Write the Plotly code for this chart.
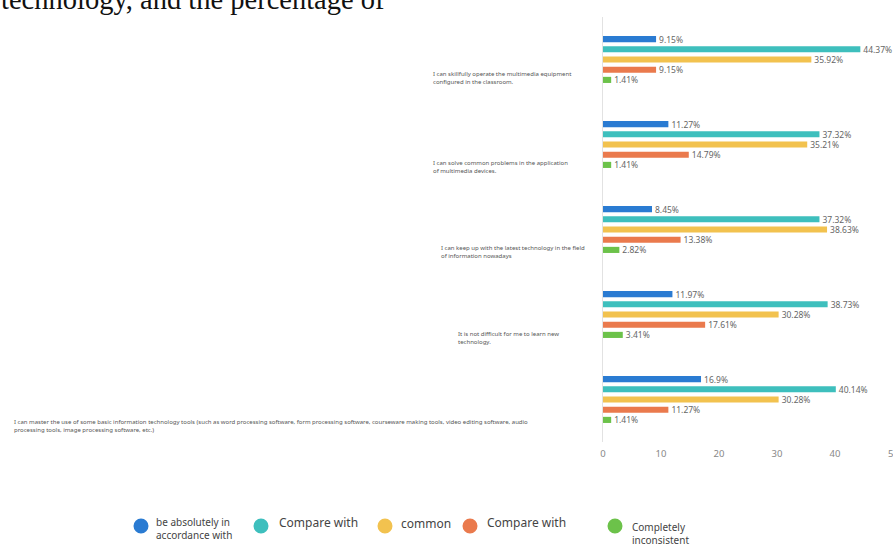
import plotly.graph_objects as go

# Survey statements (top to bottom) and the five response levels
questions = [
    "I can skillfully operate the multimedia equipment<br>configured in the classroom.",
    "I can solve common problems in the application<br>of multimedia devices.",
    "I can keep up with the latest technology in the field<br>of information nowadays",
    "It is not difficult for me to learn new<br>technology.",
    "I can master the use of some basic information technology tools (such as word processing software, "
    "form processing software, courseware making tools, video editing software, audio<br>"
    "processing tools, image processing software, etc.)",
]
series_names = [
    "be absolutely in<br>accordance with",
    "Compare with",
    "common",
    "Compare with",
    "Completely<br>inconsistent",
]
# percentages per response level, one value per statement
absolutely_agree = [9.15, 11.27, 8.45, 11.97, 16.9]
compare_agree = [44.37, 37.32, 37.32, 38.73, 40.14]
common = [35.92, 35.21, 38.63, 30.28, 30.28]
compare_disagree = [9.15, 14.79, 13.38, 17.61, 11.27]
inconsistent = [1.41, 1.41, 2.82, 3.41, 1.41]
series_values = [absolutely_agree, compare_agree, common, compare_disagree, inconsistent]

x_ticks = [0, 10, 20, 30, 40, 50]
heading = "technology, and the percentage of"

colors = ["#2a7bd2", "#3ebfbd", "#f2c24f", "#ea7a4d", "#6cc24a"]

W, H = 893, 549
L, R, T, B = 603, 0, 17, 107
plot_w = W - L - R
plot_h = H - T - B


def px2x(px):
    return (px - L) / plot_w


def py2y(py):
    return (H - B - py) / plot_h


fig = go.Figure()
for name, vals, col in zip(series_names, series_values, colors):
    fig.add_trace(go.Bar(
        y=questions, x=vals, orientation="h", name=name,
        marker=dict(color=col, line=dict(width=0)),
        text=vals, texttemplate="%{x}%", textposition="outside",
        textfont=dict(family="Noto Sans", size=8.5, color="#666666"),
        constraintext="none", cliponaxis=False,
        showlegend=False, hoverinfo="skip",
    ))

annotations = []

# statement labels, left-aligned blocks placed beside each group
label_left_px = [431, 431, 439, 456, 12]
label_drop_px = [18, 22, 22, 23, 26]
for i, (q, lx, dy) in enumerate(zip(questions, label_left_px, label_drop_px)):
    annotations.append(dict(
        x=px2x(lx), xref="paper", y=i, yref="y", yshift=-dy,
        text=q, showarrow=False, xanchor="left", yanchor="middle", align="left",
        font=dict(family="Noto Sans", size=6, color="#555555"),
    ))

# last tick label sits on the right edge of the axis
tick_font = dict(family="Noto Sans", size=9.5, color="#888888")
annotations.append(dict(
    x=x_ticks[-1], xref="x", y=py2y(453), yref="paper",
    text=str(x_ticks[-1]), showarrow=False, xanchor="center", yanchor="middle",
    font=tick_font,
))

# legend built from circles and labels along the bottom
shapes = []
legend_circle_px = [141, 261, 385, 470, 615]
legend_text_px = [154, 277, 399, 485, 630]
legend_text_py = [528.5, 522, 523, 522, 533.5]
legend_font = [10, 12, 12, 12, 10]
for name, col, cx, tx, ty, fs in zip(series_names, colors, legend_circle_px,
                                     legend_text_px, legend_text_py, legend_font):
    shapes.append(dict(
        type="circle", xref="paper", yref="paper",
        xsizemode="pixel", ysizemode="pixel",
        xanchor=px2x(cx), yanchor=py2y(526),
        x0=-7.5, x1=7.5, y0=-7.5, y1=7.5,
        fillcolor=col, line=dict(width=0),
    ))
    annotations.append(dict(
        x=px2x(tx), xref="paper", y=py2y(ty), yref="paper",
        text=name, showarrow=False, xanchor="left", yanchor="middle", align="left",
        font=dict(family="Noto Sans", size=fs, color="#444444"),
    ))

# running text of the surrounding page, cut at the top edge
annotations.append(dict(
    x=px2x(-1), xref="paper", y=py2y(0), yref="paper",
    text=heading, showarrow=False, xanchor="left", yanchor="middle",
    font=dict(family="Liberation Serif", size=28.5, color="#111111"),
))

fig.update_layout(
    width=W, height=H,
    margin=dict(l=L, r=R, t=T, b=B, pad=0),
    paper_bgcolor="white", plot_bgcolor="white",
    barmode="group", bargap=0.4, bargroupgap=0.4,
    xaxis=dict(
        range=[0, 50], tickvals=x_ticks, showgrid=False, zeroline=False,
        showline=False, ticks="", ticklabelstandoff=4, automargin=False,
        tickfont=tick_font,
    ),
    yaxis=dict(
        type="category", autorange="reversed", showticklabels=False,
        showgrid=False, zeroline=False, showline=True, automargin=False,
        linecolor="#e2e2e2", linewidth=1, ticks="",
    ),
    annotations=annotations,
    shapes=shapes,
    showlegend=False,
)

fig.write_html("out.html")
